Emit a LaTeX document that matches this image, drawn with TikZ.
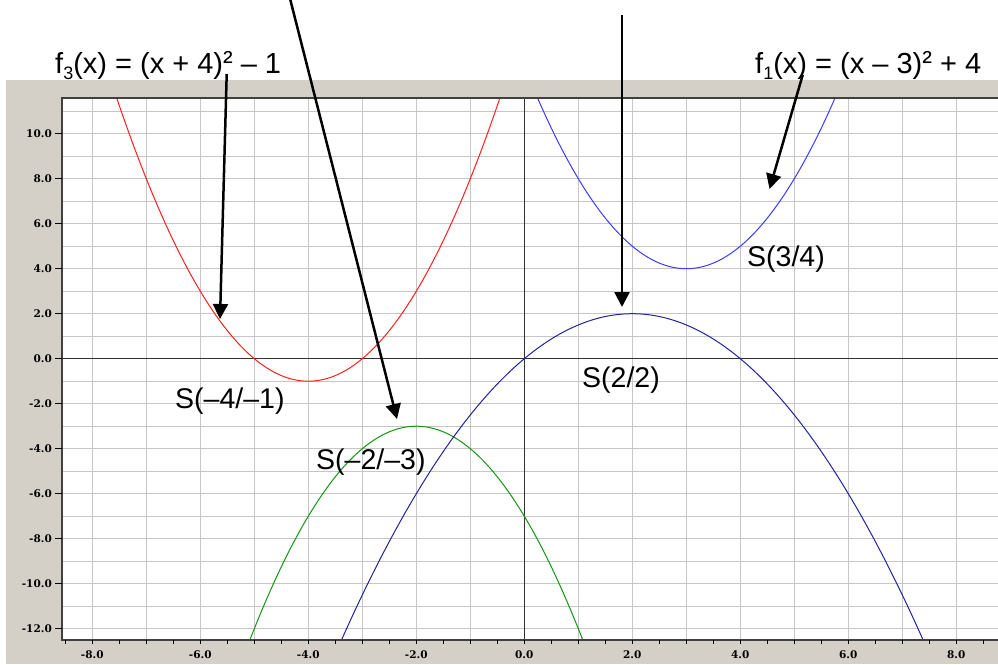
\documentclass[tikz,border=0pt]{standalone}
\usepackage{fontspec}
\setmainfont{Liberation Sans}
\newfontfamily\axfont{DejaVu Serif}
\usetikzlibrary{arrows.meta}
\definecolor{winbg}{RGB}{212,208,200}
\definecolor{gridgray}{RGB}{198,198,198}
\definecolor{cred}{RGB}{255,30,30}
\definecolor{cblue}{RGB}{60,60,255}
\definecolor{cnavy}{RGB}{35,35,160}
\definecolor{cgreen}{RGB}{20,150,20}
\begin{document}
\begin{tikzpicture}[x=1pt,y=-1pt,
  lbl/.style={inner sep=0pt, anchor=base west, font=\fontsize{28.5}{30}\selectfont},
  flbl/.style={inner sep=0pt, anchor=base west, font=\fontsize{29}{30}\selectfont},
  ylab/.style={anchor=east, inner sep=0pt, font=\axfont\bfseries\fontsize{10.5}{10.5}\selectfont},
  xlab/.style={anchor=center, inner sep=0pt, font=\axfont\bfseries\fontsize{10.5}{10.5}\selectfont},
  pointer/.style={line width=2.5pt, -{Triangle[length=15pt,width=15pt]}},
  curve/.style={line width=1pt, samples=160},
  gridline/.style={draw=gridgray, line width=1pt},
  tickmark/.style={draw=black, line width=1pt}]
\useasboundingbox (0,0) rectangle (998,664);
% window background
\fill[winbg] (6,80) rectangle (998,664);
\begin{scope}[shift={(524.3,358.7)}, x=54pt, y=22.5pt]
  \fill[white] (-8.561,-12.5) rectangle (8.772,11.586);
  \begin{scope}
    \clip (-8.561,-12.5) rectangle (8.772,11.586);
    \foreach \u in {-8,...,8} \draw[gridline] (\u,-12.5) -- (\u,11.586);
    \foreach \v in {-12,...,11} \draw[gridline] (-8.561,\v) -- (8.772,\v);
    \draw[black!80, line width=1pt] (-8.561,0) -- (8.772,0);
    \draw[black!80, line width=1pt] (0,-12.5) -- (0,11.586);
    \draw[curve, cred] plot[domain=-7.7:-0.3] (\x,{(\x+4)*(\x+4)-1});
    \draw[curve, cblue] plot[domain=-0.7:6.7] (\x,{(\x-3)*(\x-3)+4});
    \draw[curve, cgreen] plot[domain=-5.2:1.2] (\x,{-(\x+2)*(\x+2)-3});
    \draw[curve, cnavy] plot[domain=-3.5:7.5] (\x,{-0.5*(\x-2)*(\x-2)+2});
  \end{scope}
  \draw[black!75, line width=1.2pt] (8.772,11.586) -- (-8.561,11.586) -- (-8.561,-12.5) -- (8.772,-12.5);
  \foreach \v/\t in {10/10.0,8/8.0,6/6.0,4/4.0,2/2.0,0/0.0,-2/-2.0,-4/-4.0,-6/-6.0,-8/-8.0,-10/-10.0,-12/-12.0}{
    \draw[tickmark] (-8.561,\v) -- ++(-7pt,0);
    \node[ylab] (yl\v) at ([xshift=-10pt]-8.561,\v) {\t};
  }
  \foreach \u in {-8.5,-8,...,8.5} \draw[tickmark] (\u,-12.5) -- ++(0,-4pt);
  \foreach \u/\t in {-8/-8.0,-6/-6.0,-4/-4.0,-2/-2.0,0/0.0,2/2.0,4/4.0,6/6.0,8/8.0}
    \node[xlab] (xl\u) at ([yshift=-14.5pt]\u,-12.5) {\t};
\end{scope}
% labels
\node[flbl] (f3) at (55,73) {f\raisebox{-0.22em}{\fontsize{18}{18}\selectfont 3}(x) = (x + 4)\raisebox{0.05em}{²} – 1};
\node[flbl] (f1) at (755,73) {f\raisebox{-0.22em}{\fontsize{18}{18}\selectfont 1}(x) = (x – 3)\raisebox{0.05em}{²} + 4};
\node[lbl] (s34) at (747,266) {S(3/4)};
\node[lbl] (s22) at (582,387) {S(2/2)};
\node[lbl] (s41) at (175,408) {S(–4/–1)};
\node[lbl] (s23) at (316,469) {S(–2/–3)};
% arrows
\coordinate (a1s) at (226.7,74);  \coordinate (a1e) at (220,319);
\coordinate (a2s) at (289.6,-3);  \coordinate (a2e) at (397,419);
\coordinate (a3s) at (622,15);    \coordinate (a3e) at (622,307);
\coordinate (a4s) at (802.7,75);  \coordinate (a4e) at (769.5,189);
\draw[pointer] (a1s) -- (a1e);
\draw[pointer] (a2s) -- (a2e);
\draw[pointer] (a3s) -- (a3e);
\draw[pointer] (a4s) -- (a4e);
\end{tikzpicture}
\end{document}
